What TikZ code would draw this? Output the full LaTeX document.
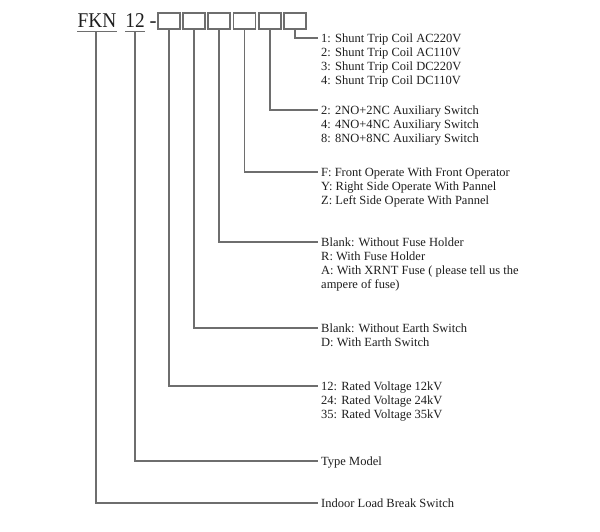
\documentclass[tikz,border=0pt]{standalone}
\usepackage{fontspec}
\setmainfont{Liberation Serif}
\definecolor{linegray}{HTML}{6E6E6E}
\definecolor{txt}{HTML}{1E1E1E}
\tikzset{
  conn/.style={draw=linegray, line width=1.1pt},
  slot/.style={draw=linegray, line width=1.1pt, minimum width=22pt, minimum height=16pt, inner sep=0pt},
  lbl/.style={anchor=north west, inner xsep=3pt, inner ysep=0pt, align=left, text=txt,
    font=\fontsize{12.5}{14}\selectfont},
  ttl/.style={anchor=base, inner sep=0pt, text=txt, font=\fontsize{21}{24}\selectfont}
}
\begin{document}
\begin{tikzpicture}[x=1pt, y=-1pt]
\useasboundingbox (0,0) rectangle (600,532);
% title
\node[ttl] (fkn) at (97,28) {\scalebox{0.92}[1]{FKN}};
\node[ttl] (num) at (135,28) {\scalebox{0.92}[1]{12}};
\node[ttl] (dash) at (153,28) {-};
\coordinate (u1) at (96,31.5);
\coordinate (u2) at (135,31.5);
\draw[conn] (fkn.west |- u1) -- (fkn.east |- u1);
\draw[conn] (num.west |- u2) -- (num.east |- u2);
% slots
\node[slot] (s1) at (169,21) {};
\node[slot] (s2) at (194,21) {};
\node[slot] (s3) at (219,21) {};
\node[slot] (s4) at (244.5,21) {};
\node[slot] (s5) at (270,21) {};
\node[slot] (s6) at (295,21) {};
% labels
\node[lbl] (l6) at (318,{38-4.4}) {1: Shunt Trip Coil AC220V\\2: Shunt Trip Coil AC110V\\3: Shunt Trip Coil DC220V\\4: Shunt Trip Coil DC110V};
\node[lbl] (l5) at (318,{110-4.4}) {2: 2NO+2NC Auxiliary Switch\\4: 4NO+4NC Auxiliary Switch\\8: 8NO+8NC Auxiliary Switch};
\node[lbl] (l4) at (318,{172-4.4}) {F: Front Operate With Front Operator\\Y: Right Side Operate With Pannel\\Z: Left Side Operate With Pannel};
\node[lbl] (l3) at (318,{242-4.4}) {Blank: Without Fuse Holder\\R: With Fuse Holder\\A: With XRNT Fuse ( please tell us the\\ampere of fuse)};
\node[lbl] (l2) at (318,{328-4.4}) {Blank: Without Earth Switch\\D: With Earth Switch};
\node[lbl] (l1) at (318,{386-4.4}) {12: Rated Voltage 12kV\\24: Rated Voltage 24kV\\35: Rated Voltage 35kV};
\node[lbl] (lt) at (318,{461-4.4}) {Type Model};
\node[lbl] (lf) at (318,{503-4.4}) {Indoor Load Break Switch};
% connectors
\draw[conn] (s6.south) |- ([yshift=-4.4pt]l6.north west);
\draw[conn] (s5.south) |- ([yshift=-4.4pt]l5.north west);
\draw[conn] (s4.south) |- ([yshift=-4.4pt]l4.north west);
\draw[conn] (s3.south) |- ([yshift=-4.4pt]l3.north west);
\draw[conn] (s2.south) |- ([yshift=-4.4pt]l2.north west);
\draw[conn] (s1.south) |- ([yshift=-4.4pt]l1.north west);
\draw[conn] (u2) |- ([yshift=-4.4pt]lt.north west);
\draw[conn] (u1) |- ([yshift=-4.4pt]lf.north west);
\end{tikzpicture}
\end{document}
